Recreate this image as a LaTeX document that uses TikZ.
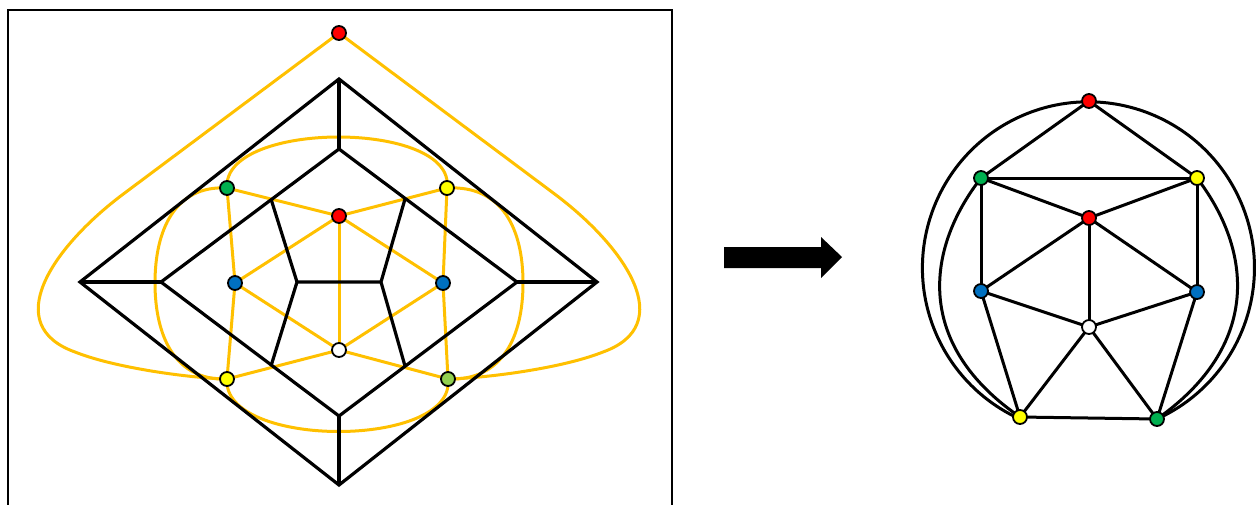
\documentclass[tikz,border=0pt]{standalone}
\usepackage{tikz}
\usetikzlibrary{calc}

\definecolor{dualline}{RGB}{255,192,0}
\definecolor{cred}{RGB}{255,0,0}
\definecolor{cgreen}{RGB}{0,176,80}
\definecolor{clime}{RGB}{146,208,80}
\definecolor{cyellow}{RGB}{255,255,0}
\definecolor{cblue}{RGB}{0,112,192}

\begin{document}
\begin{tikzpicture}[
  x=1pt, y=-1pt,
  primal/.style={line width=3.2pt, line join=miter},
  dual/.style={draw=dualline, line width=3pt},
  edge/.style={line width=3pt},
  vtx/.style={circle, draw, line width=1.8pt, inner sep=0pt, minimum size=14pt},
]
\useasboundingbox (0,0) rectangle (1257,504);
% frame of the left panel
\draw[line width=2.6pt] (8,508) -- (8,10) -- (672,10) -- (672,508);

% primal graph corners
\coordinate (OT) at (339,79);  \coordinate (OL) at (80,282);
\coordinate (OR) at (597,282); \coordinate (OB) at (339,485);
\coordinate (IT) at (339,149); \coordinate (IL) at (161,282);
\coordinate (IR) at (517,282); \coordinate (IB) at (339,416);
\coordinate (AL) at (271,199); \coordinate (AR) at (405,199);
\coordinate (BL) at (271,366); \coordinate (BR) at (405,366);
\coordinate (CL) at (297,282); \coordinate (CR) at (381,282);

% dual vertices
\coordinate (D0) at (339,33);
\coordinate (D1) at (227,188);
\coordinate (D2) at (447,188);
\coordinate (D3) at (339,216);
\coordinate (D4) at (235,283);
\coordinate (D5) at (443,283);
\coordinate (D6) at (339,350);
\coordinate (D7) at (227,379);
\coordinate (D8) at (448,379);

% dual edges
\draw[dual] (D0) -- (122,195) .. controls (52,248) and (0,325) .. (75,352)
  .. controls (115,368) and (190,378) .. (D7);
\draw[dual] (D0) -- (556,195) .. controls (626,248) and (678,325) .. (603,352)
  .. controls (563,368) and (488,378) .. (D8);
\draw[dual] (D1) .. controls (222,120) and (456,120) .. (D2);
\draw[dual] (D7) .. controls (222,449) and (456,449) .. (D8);
\draw[dual] (D1) .. controls (175,185) and (155,230) .. (155,283)
  .. controls (155,336) and (175,381) .. (D7);
\draw[dual] (D2) .. controls (503,185) and (523,230) .. (523,283)
  .. controls (523,336) and (503,381) .. (D8);
\foreach \a/\b in {D1/D3, D2/D3, D1/D4, D4/D7, D2/D5, D5/D8,
                   D3/D4, D3/D5, D3/D6, D4/D6, D5/D6, D7/D6, D8/D6}
  \draw[dual] (\a) -- (\b);

% primal graph
\draw[primal] (OT) -- (OL) -- (OB) -- (OR) -- cycle;
\draw[primal] (IT) -- (IL) -- (IB) -- (IR) -- cycle;
\draw[primal] (OT) -- (IT) (OL) -- (IL) (OR) -- (IR) (OB) -- (IB);
\draw[primal] (AL) -- (CL) -- (BL) (AR) -- (CR) -- (BR) (CL) -- (CR);

% dual vertices on top
\foreach \n/\c in {D0/cred, D1/cgreen, D2/cyellow, D3/cred, D4/cblue,
                   D5/cblue, D6/white, D7/cyellow, D8/clime}
  \node[vtx, fill=\c] (v\n) at (\n) {};

% block arrow
\fill (724,247) -- (821,247) -- (821,237) -- (842,257) -- (821,278)
  -- (821,268) -- (724,268) -- cycle;

% resulting graph
\coordinate (R0) at (1089,101);
\coordinate (R1) at (981,178);
\coordinate (R2) at (1197,178);
\coordinate (R3) at (1089,218);
\coordinate (R4) at (981,291);
\coordinate (R5) at (1197,292);
\coordinate (R6) at (1089,327);
\coordinate (R7) at (1020,417);
\coordinate (R8) at (1157,419);

\draw[edge] (R8) arc[start angle=65.6, end angle=-245.6, radius=166];
\draw[edge] (R1) .. controls (925,250) and (915,345) .. (R7);
\draw[edge] (R2) .. controls (1252,250) and (1262,345) .. (R8);
\foreach \a/\b in {R0/R1, R0/R2, R1/R2, R1/R3, R2/R3, R1/R4, R2/R5,
                   R3/R4, R3/R5, R3/R6, R4/R6, R5/R6, R4/R7, R5/R8,
                   R6/R7, R6/R8, R7/R8}
  \draw[edge] (\a) -- (\b);
\foreach \n/\c in {R0/cred, R1/cgreen, R2/cyellow, R3/cred, R4/cblue,
                   R5/cblue, R6/white, R7/cyellow, R8/cgreen}
  \node[vtx, fill=\c] (v\n) at (\n) {};
\end{tikzpicture}
\end{document}
